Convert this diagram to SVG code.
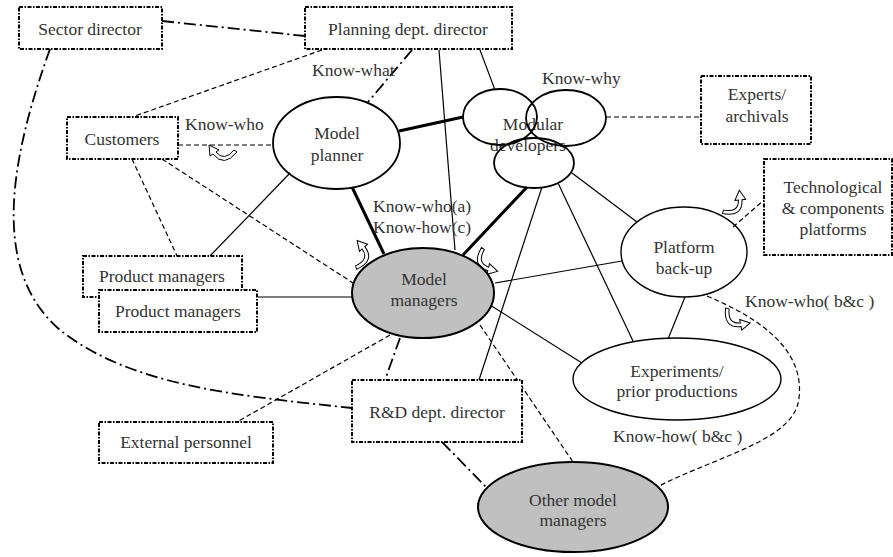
<svg xmlns="http://www.w3.org/2000/svg" xmlns:xlink="http://www.w3.org/1999/xlink" width="893" height="557" viewBox="0 0 893 557">
<style>
text{font-family:"Liberation Serif","Times New Roman",serif;font-size:17.5px;fill:#333;text-anchor:middle}
.lbl{text-anchor:start}
.box{fill:#fff;stroke:#000;stroke-width:2;stroke-dasharray:4 1.5 1.5 1.5}
.ell{fill:none;stroke:#000;stroke-width:1.8}
.gray{fill:#c0c0c0;stroke:#000;stroke-width:2}
.c{fill:none;stroke:#000}
.dd{stroke-width:1.8;stroke-dasharray:12 4 2 4}
.ds{stroke-width:1.2;stroke-dasharray:5 3}
.sl{stroke-width:1.2}
.th{stroke-width:3}
.arr{fill:#fff;stroke:#000;stroke-width:1}
</style>
<defs>
<path id="carrow" class="arr" d="M -13,-1 Q 0,15 11,1 L 14,3 L 15,-8 L 5,-3 L 8,-1 Q 0,9 -10,-3 Z"/>
</defs>
<g id="connectors">
<line class="c dd" x1="162" y1="21" x2="305" y2="36"/>
<path class="c dd" d="M50,49 C10,160 -10,270 60,330 C130,385 230,395 352,408"/>
<line class="c dd" x1="412" y1="50" x2="368" y2="102"/>
<line class="c dd" x1="400" y1="338" x2="385" y2="380"/>
<line class="c dd" x1="442" y1="442" x2="487" y2="488"/>
<line class="c ds" x1="322" y1="50" x2="132" y2="117"/>
<line class="c ds" x1="178" y1="145" x2="273" y2="145"/>
<line class="c ds" x1="132" y1="159" x2="177" y2="256"/>
<line class="c ds" x1="162" y1="159" x2="353" y2="283"/>
<line class="c ds" x1="606" y1="117" x2="701" y2="117"/>
<line class="c ds" x1="390" y1="335" x2="237" y2="422"/>
<line class="c ds" x1="480" y1="325" x2="573" y2="462"/>
<line class="c ds" x1="733" y1="227" x2="764" y2="200"/>
<path class="c ds" d="M707,296 C757,317 805,348 799,398 C795,440 720,455 657,487"/>
<line class="c sl" x1="290" y1="173" x2="210" y2="256"/>
<line class="c sl" x1="258" y1="297" x2="352" y2="297"/>
<line class="c sl" x1="480" y1="50" x2="495" y2="90"/>
<line class="c sl" x1="439" y1="50" x2="455" y2="250"/>
<line class="c sl" x1="542" y1="187" x2="479" y2="380"/>
<line class="c sl" x1="558" y1="183" x2="633" y2="341"/>
<line class="c sl" x1="572" y1="173" x2="637" y2="222"/>
<line class="c sl" x1="495" y1="283" x2="622" y2="261"/>
<line class="c sl" x1="490" y1="305" x2="582" y2="363"/>
<line class="c sl" x1="685" y1="297" x2="668" y2="339"/>
<line class="c th" x1="352" y1="187" x2="384" y2="254"/>
<line class="c th" x1="399" y1="131" x2="463" y2="117"/>
<line class="c th" x1="527" y1="187" x2="463" y2="255"/>
<use xlink:href="#carrow" href="#carrow" transform="translate(224,153) scale(-1,1)"/>
<use xlink:href="#carrow" href="#carrow" transform="translate(361,257) rotate(-75)"/>
<use xlink:href="#carrow" href="#carrow" transform="translate(485,260) rotate(70)"/>
<use xlink:href="#carrow" href="#carrow" transform="translate(733,206) rotate(-40)"/>
<use xlink:href="#carrow" href="#carrow" transform="translate(734,318) rotate(45)"/>
</g>
<g id="sector-director"><rect class="box" x="19" y="7" width="143" height="42"/><text x="90" y="35">Sector director</text></g>
<g id="planning-director"><rect class="box" x="305" y="7" width="207" height="42"/><text x="408" y="35">Planning dept. director</text></g>
<g id="customers"><rect class="box" x="67" y="117" width="111" height="42"/><text x="122" y="145">Customers</text></g>
<g id="experts"><rect class="box" x="701" y="76" width="110" height="68"/><text x="757" y="100">Experts/</text><text x="757" y="122">archivals</text></g>
<g id="tech-platforms"><rect class="box" x="764" y="159" width="128" height="96"/><text x="833" y="193">Technological</text><text x="833" y="214">&amp; components</text><text x="833" y="235">platforms</text></g>
<g id="product-managers-1"><rect class="box" x="83" y="256" width="159" height="41"/><text x="162" y="282">Product managers</text></g>
<g id="product-managers-2"><rect class="box" x="99" y="290" width="158" height="42"/><text x="178" y="317">Product managers</text></g>
<g id="external-personnel"><rect class="box" x="99" y="422" width="174" height="41"/><text x="186" y="448">External personnel</text></g>
<g id="rd-director"><rect class="box" x="352" y="380" width="170" height="62"/><text x="437" y="418">R&amp;D dept. director</text></g>
<g id="model-planner"><ellipse class="ell" cx="336.5" cy="143" rx="63.5" ry="46"/><text x="337" y="139">Model</text><text x="337" y="161">planner</text></g>
<g id="modular-developers"><text x="533" y="130">Modular</text><text x="528" y="151">developers</text><ellipse class="ell" cx="500" cy="117" rx="37" ry="28"/><ellipse class="ell" cx="566" cy="118" rx="40" ry="28"/><ellipse class="ell" cx="534" cy="163" rx="40" ry="25"/></g>
<g id="model-managers"><ellipse class="gray" cx="423" cy="293" rx="71" ry="45"/><text x="424" y="285">Model</text><text x="424" y="306">managers</text></g>
<g id="platform-backup"><ellipse class="ell" cx="684" cy="252" rx="63" ry="45" style="stroke-width:1.4"/><text x="684" y="253">Platform</text><text x="684" y="274">back-up</text></g>
<g id="experiments"><ellipse class="ell" cx="677" cy="379" rx="104" ry="41" style="stroke-width:1.4"/><text x="677" y="377">Experiments/</text><text x="677" y="397">prior productions</text></g>
<g id="other-model-managers"><ellipse class="gray" cx="573" cy="507" rx="95" ry="45"/><text x="573" y="506">Other model</text><text x="573" y="526">managers</text></g>
<g id="labels">
<text class="lbl" x="312" y="76">Know-what</text>
<text class="lbl" x="185" y="130">Know-who</text>
<text class="lbl" x="542" y="84">Know-why</text>
<text class="lbl" x="373" y="212">Know-who(a)</text>
<text class="lbl" x="373" y="233">Know-how(c)</text>
<text class="lbl" x="745" y="307">Know-who( b&amp;c )</text>
<text class="lbl" x="613" y="442">Know-how( b&amp;c )</text>
</g>
</svg>
